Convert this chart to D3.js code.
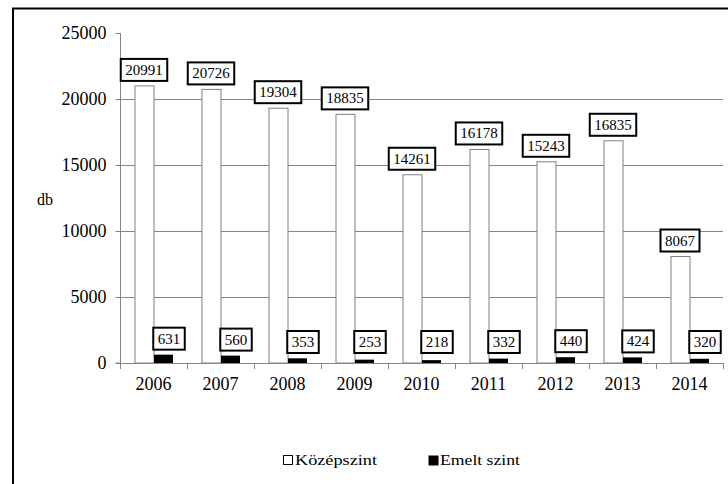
<!DOCTYPE html>
<html>
<head>
<meta charset="utf-8">
<script src="https://cdn.jsdelivr.net/npm/d3@7"></script>
<style>
  body { margin: 0; background: #fff; }
</style>
</head>
<body>
<div id="chart"></div>
<script>
const years = ["2006", "2007", "2008", "2009", "2010", "2011", "2012", "2013", "2014"];
const kozepszint = [20991, 20726, 19304, 18835, 14261, 16178, 15243, 16835, 8067];
const emeltSzint = [631, 560, 353, 253, 218, 332, 440, 424, 320];
const seriesNames = ["Középszint", "Emelt szint"];
const yTicks = [0, 5000, 10000, 15000, 20000, 25000];

const FONT = "'Liberation Serif'";

const svg = d3.select("#chart").append("svg")
  .attr("width", 728)
  .attr("height", 484);

// outer frame (only left/top edges fall inside the picture)
svg.append("rect")
  .attr("x", 13).attr("y", 8.5)
  .attr("width", 800).attr("height", 600)
  .attr("fill", "none").attr("stroke", "#000").attr("stroke-width", 2);

const x0 = d3.scaleBand().domain(years).range([120, 723]);
const x1 = d3.scaleBand().domain(seriesNames)
  .range([0, x0.bandwidth()])
  .paddingOuter(0.763);
const y = d3.scaleLinear().domain([0, 25000]).range([363, 33]);

// gridlines
svg.append("g").selectAll("line")
  .data(yTicks.filter(t => t > 0 && t < 25000))
  .join("line")
  .attr("x1", 120).attr("x2", 723)
  .attr("y1", d => Math.round(y(d)) + 0.5).attr("y2", d => Math.round(y(d)) + 0.5)
  .attr("stroke", "#868686");

// y axis
const yAxis = svg.append("g")
  .attr("transform", "translate(120.5,0)")
  .call(d3.axisLeft(y).tickValues(yTicks).tickSize(5).tickPadding(9).tickFormat(d3.format("d")));
yAxis.attr("font-family", null).attr("font-size", null);
yAxis.select(".domain").attr("stroke", "#868686").attr("d", `M-5,${y(0)}H0V${y(25000)}`);
yAxis.selectAll(".tick line").attr("stroke", "#868686");
yAxis.selectAll(".tick text")
  .style("font-size", "18px").attr("dy", "0.32em");

svg.append("text")
  .attr("x", 37).attr("y", 205)
  .style("font-size", "16px")
  .text("db");

// data table
const rows = years.map((yr, i) => ({ year: yr, values: [kozepszint[i], emeltSzint[i]] }));

const groups = svg.append("g").selectAll("g")
  .data(rows)
  .join("g")
  .attr("transform", d => `translate(${x0(d.year)},0)`);

groups.selectAll("rect")
  .data(d => d.values.map((v, j) => ({ name: seriesNames[j], value: v })))
  .join("rect")
  .attr("x", d => x1(d.name) + 0.5)
  .attr("y", d => y(d.value))
  .attr("width", x1.bandwidth())
  .attr("height", d => y(0) - y(d.value))
  .attr("fill", d => d.name === seriesNames[0] ? "#fff" : "#000")
  .attr("stroke", d => d.name === seriesNames[0] ? "#808080" : "none");

// x axis
svg.append("line")
  .attr("x1", 120).attr("x2", 723)
  .attr("y1", 363.5).attr("y2", 363.5)
  .attr("stroke", "#868686");
svg.append("g").selectAll("line")
  .data(years.concat(["end"]))
  .join("line")
  .attr("x1", (d, i) => 120.5 + i * x0.step())
  .attr("x2", (d, i) => 120.5 + i * x0.step())
  .attr("y1", 363).attr("y2", 369)
  .attr("stroke", "#868686");
svg.append("g").selectAll("text")
  .data(years)
  .join("text")
  .attr("x", d => x0(d) + x0.bandwidth() / 2)
  .attr("y", 390)
  .attr("text-anchor", "middle")
  .style("font-size", "18px")
  .text(d => d);

// value labels in boxes
const labels = groups.selectAll("g.lbl")
  .data(d => d.values.map((v, j) => ({ name: seriesNames[j], value: v })))
  .join("g")
  .attr("class", "lbl");

labels.each(function (d) {
  const g = d3.select(this);
  const cx = x1(d.name) + x1.bandwidth() / 2 + (d.name === seriesNames[0] ? 0 : 6);
  const bottom = Math.min(y(d.value) - 5, 353);
  const t = g.append("text")
    .attr("x", cx)
    .attr("y", bottom - 6)
    .attr("text-anchor", "middle")
    .style("font-family", FONT)
    .style("font-size", "15px")
    .text(d.value);
  const w = t.node().getComputedTextLength() + 9;
  g.insert("rect", "text")
    .attr("x", cx - w / 2)
    .attr("y", bottom - 22)
    .attr("width", w)
    .attr("height", 22)
    .attr("fill", "#fff")
    .attr("stroke", "#000")
    .attr("stroke-width", 2);
});

// legend
const legend = svg.append("g");
const legendX = [283, 428];
seriesNames.forEach((name, j) => {
  legend.append("rect")
    .attr("x", legendX[j] + 0.5).attr("y", 455.5)
    .attr("width", j === 0 ? 9 : 10).attr("height", j === 0 ? 9 : 10)
    .attr("fill", j === 0 ? "#fff" : "#000")
    .attr("stroke", j === 0 ? "#000" : "none");
  legend.append("text")
    .attr("x", legendX[j] + 12).attr("y", 465)
    .style("font-size", "15px")
    .attr("textLength", j === 0 ? 82 : 80)
    .attr("lengthAdjust", "spacingAndGlyphs")
    .text(name);
});

// one serif face for every text
svg.selectAll("text").style("font-family", FONT).attr("fill", "#000");
</script>
</body>
</html>
